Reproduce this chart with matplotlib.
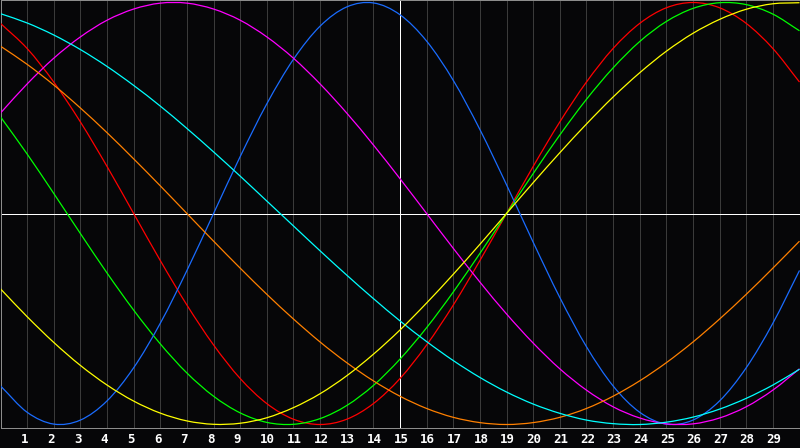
import matplotlib
matplotlib.use("Agg")
import matplotlib.pyplot as plt
from matplotlib.path import Path
from matplotlib.patches import PathPatch
from matplotlib.transforms import blended_transform_factory, ScaledTranslation

# day positions (0 = left edge, 30 = right edge)
days = list(range(31))
tick_days = list(range(1, 30))
tick_labels = [str(d) for d in tick_days]
today = 15

# values at each day (-1 .. 1)
physical = [-0.817, -0.942, -0.998, -0.979, -0.888, -0.731, -0.520, -0.270, 0.0, 0.270,
            0.520, 0.731, 0.888, 0.979, 0.998, 0.942, 0.817, 0.631, 0.398, 0.136,
            -0.136, -0.398, -0.631, -0.817, -0.942, -0.998, -0.979, -0.888, -0.731, -0.520,
            -0.270]
emotional = [0.901, 0.782, 0.623, 0.434, 0.223, 0.0, -0.223, -0.434, -0.623, -0.782,
             -0.901, -0.975, -1.0, -0.975, -0.901, -0.782, -0.623, -0.434, -0.223, 0.0,
             0.223, 0.434, 0.623, 0.782, 0.901, 0.975, 1.0, 0.975, 0.901, 0.782,
             0.623]
intellectual = [0.458, 0.282, 0.095, -0.095, -0.282, -0.458, -0.618, -0.756, -0.866, -0.945,
                -0.990, -0.999, -0.972, -0.910, -0.815, -0.690, -0.541, -0.372, -0.189, 0.0,
                0.189, 0.372, 0.541, 0.690, 0.815, 0.910, 0.972, 0.999, 0.990, 0.945,
                0.866]
intuitive = [0.476, 0.614, 0.736, 0.837, 0.916, 0.969, 0.997, 0.997, 0.969, 0.916,
             0.837, 0.736, 0.614, 0.476, 0.325, 0.165, 0.0, -0.165, -0.325, -0.476,
             -0.614, -0.736, -0.837, -0.916, -0.969, -0.997, -0.997, -0.969, -0.916, -0.837,
             -0.736]
aesthetic = [-0.357, -0.489, -0.611, -0.720, -0.813, -0.889, -0.946, -0.983, -0.999, -0.994,
             -0.968, -0.920, -0.854, -0.769, -0.667, -0.552, -0.424, -0.288, -0.146, 0.0,
             0.146, 0.288, 0.424, 0.552, 0.667, 0.769, 0.854, 0.920, 0.968, 0.994,
             0.999]
awareness = [0.793, 0.707, 0.609, 0.5, 0.383, 0.259, 0.131, 0.0, -0.131, -0.259,
             -0.383, -0.5, -0.609, -0.707, -0.793, -0.866, -0.924, -0.966, -0.991, -1.0,
             -0.991, -0.966, -0.924, -0.866, -0.793, -0.707, -0.609, -0.5, -0.383, -0.259,
             -0.131]
spiritual = [0.947, 0.903, 0.846, 0.777, 0.697, 0.607, 0.509, 0.403, 0.292, 0.177,
             0.059, -0.059, -0.177, -0.292, -0.403, -0.509, -0.607, -0.697, -0.777, -0.846,
             -0.903, -0.947, -0.979, -0.996, -1.0, -0.989, -0.965, -0.927, -0.876, -0.813,
             -0.738]

series = [
    (emotional, "#ff0000"),
    (intellectual, "#00ff00"),
    (physical, "#1a6cff"),
    (intuitive, "#ff00ff"),
    (awareness, "#ff8000"),
    (spiritual, "#00ffff"),
    (aesthetic, "#ffff00"),
]


def smooth_path(xs, ys):
    """Cubic Bezier (Catmull-Rom) path running through every data point."""
    n = len(xs)
    verts = [(xs[0], ys[0])]
    codes = [Path.MOVETO]
    for i in range(n - 1):
        i0 = max(i - 1, 0)
        i3 = min(i + 2, n - 1)
        dx1 = (xs[i + 1] - xs[i0]) / (6.0 if i > 0 else 3.0)
        dy1 = (ys[i + 1] - ys[i0]) / (6.0 if i > 0 else 3.0)
        dx2 = (xs[i3] - xs[i]) / (6.0 if i + 2 < n else 3.0)
        dy2 = (ys[i3] - ys[i]) / (6.0 if i + 2 < n else 3.0)
        verts += [(xs[i] + dx1, ys[i] + dy1),
                  (xs[i + 1] - dx2, ys[i + 1] - dy2),
                  (xs[i + 1], ys[i + 1])]
        codes += [Path.CURVE4] * 3
    return Path(verts, codes)


BG = "#060608"
W, H = 800, 448
fig = plt.figure(figsize=(W / 100, H / 100), dpi=100, facecolor=BG)
ax = fig.add_axes([0.5 / W, 20.5 / H, 799 / W, 427 / H])
ax.set_facecolor(BG)
ax.set_xlim(0, 30)
ax.set_ylim(-1.0142, 1.0095)

for d in tick_days:
    ax.axvline(d, color="#3a3a3a", lw=0.72, antialiased=False, zorder=1)
ax.axvline(today, color="white", lw=0.72, antialiased=False, zorder=2)
ax.axhline(0, color="white", lw=0.72, antialiased=False, zorder=2)

for vals, col in series:
    ax.add_patch(PathPatch(smooth_path(days, vals), facecolor="none",
                           edgecolor=col, lw=0.9, antialiased=True, zorder=3))

for s in ax.spines.values():
    s.set_color("#8c8c8c")
    s.set_linewidth(0.72)
ax.set_xticks([])
ax.set_yticks([])

tr = blended_transform_factory(ax.transData, fig.transFigure) + \
    ScaledTranslation(-6.5 / 100, 0, fig.dpi_scale_trans)
for d, lab in zip(tick_days, tick_labels):
    ax.text(d, 5 / H, lab, transform=tr, ha="left", va="baseline",
            color="white", fontsize=9, fontweight="bold",
            family="DejaVu Sans Mono", clip_on=False)

fig.savefig("out.png", dpi=100, facecolor=BG)
